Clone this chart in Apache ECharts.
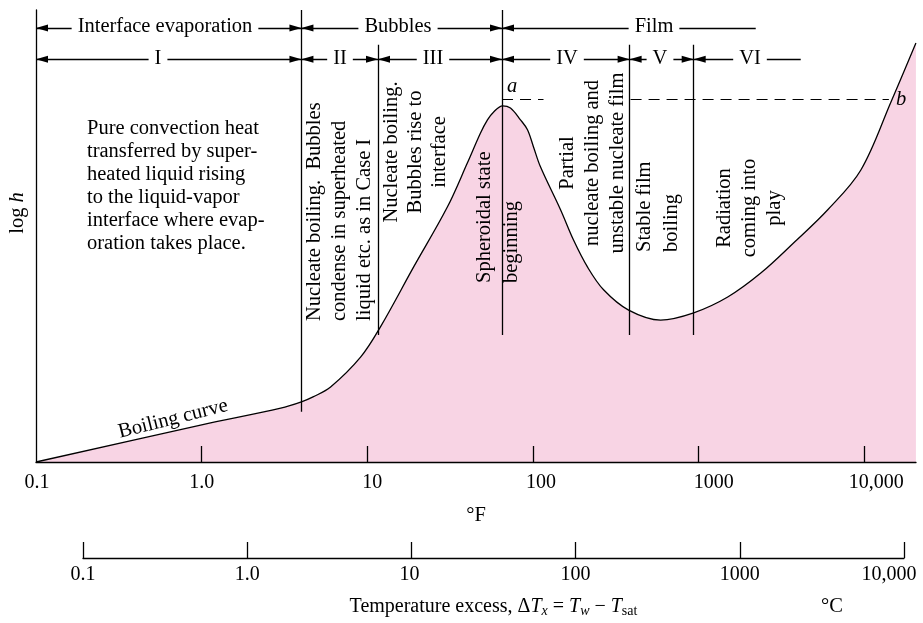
<!DOCTYPE html>
<html>
<head>
<meta charset="utf-8">
<title>Boiling curve</title>
<script src="https://cdn.jsdelivr.net/npm/echarts@6/dist/echarts.min.js"></script>
<style>
  html, body { margin: 0; padding: 0; background: #fff; }
  #chart { width: 923px; height: 623px; }
</style>
</head>
<body>
<div id="chart"></div>
<script>
// tick values / labels of the two temperature scales
var fTicks = [0.1, 1, 10, 100, 1000, 10000];
var fTickLabels = ['0.1', '1.0', '10', '100', '1000', '10,000'];
var cTicks = [0.1, 1, 10, 100, 1000, 10000];
var cTickLabels = ['0.1', '1.0', '10', '100', '1000', '10,000'];

// boiling curve (x = deg F excess, y = log h in arbitrary units 0..100)
var curveX = [0.1, 1.0, 3.0, 4.0, 4.7, 6.0, 9.1, 12.0, 19.0, 30.4, 40.2, 48.2, 53.1, 57.7, 65.5, 73.1,
              84.0, 92.6, 100.7, 110.9, 146.6, 175.6, 213.5, 266.6, 377.6, 589, 933, 1497, 2371,
              3750, 6013, 9528, 14454, 20478];
var curveY = [0, 8.2, 11.9, 13.3, 14.4, 16.6, 23.2, 29.9, 43.1, 56.4, 66.2, 72.8, 75.7, 77.4, 78.8, 78.3,
              75.7, 73.5, 69.7, 65.3, 55.8, 49.1, 43.1, 38.1, 33.6, 31.4, 33.0, 36.5, 41.8,
              48.5, 55.8, 64.6, 79.6, 92.7];

// region boundaries
var boundX = [4, 11.6, 65, 383, 933];
var boundTop = [100, 92.3, 100, 92.3, 92.3];
var boundBottom = [11.1, 28.1, 28.1, 28.1, 28.1];

// arrow bands
var regimeStart = [0.1, 4, 65];
var regimeEnd = [4, 65, 2210];
var regimeEndArrow = [true, true, false];
var regimeNames = ['Interface evaporation', 'Bubbles', 'Film'];
var regimeY = 96.0;

var stageStart = [0.1, 4, 11.6, 65, 383, 933];
var stageEnd = [4, 11.6, 65, 383, 933, 4130];
var stageEndArrow = [true, true, true, true, true, false];
var stageNames = ['I', 'II', 'III', 'IV', 'V', 'VI'];
var stageY = 89.1;

// dashed reference lines a and b
var refY = 80.3;
var dashA = [65, 115.7];
var dashB = [388, 14060];

var PINK = '#f8d4e4';
var FONT = 'Liberation Serif';
var FS = 20.5;
var ARROW = 'path://M0,-12L0,-12M0,0L3.5,12L-3.5,12Z';

var fShift = [1, 0, 5, 8, 15, 12];
var cShift = [0, 0, -2, 0, 0, -15];

function tickIndex(ticks, v) {
  var best = 0;
  for (var i = 0; i < ticks.length; i++) {
    if (Math.abs(Math.log10(ticks[i]) - Math.log10(v)) < Math.abs(Math.log10(ticks[best]) - Math.log10(v))) best = i;
  }
  return best;
}
function shiftRich(shifts) {
  var r = {};
  shifts.forEach(function (s, i) {
    r['s' + i] = { fontFamily: FONT, fontSize: 20, color: '#000',
                   padding: s >= 0 ? [0, 0, 0, 2 * s] : [0, -2 * s, 0, 0] };
  });
  return r;
}

var chart = echarts.init(document.getElementById('chart'));

var boundLines = boundX.map(function (x, i) {
  return [{ coord: [x, boundTop[i]] }, { coord: [x, boundBottom[i]] }];
});
function bandLines(starts, ends, endArrow, y) {
  return starts.map(function (s, i) {
    return [
      { coord: [s, y], symbol: ARROW, symbolSize: [7, 24] },
      { coord: [ends[i], y], symbol: endArrow[i] ? ARROW : 'none', symbolSize: [7, 24] }
    ];
  });
}

var textStyleBase = { font: FS + 'px "' + FONT + '"', fill: '#000' };
function txt(x, y, text, extra) {
  var st = Object.assign({}, textStyleBase, { text: text }, extra && extra.style);
  var el = { type: 'text', x: x, y: y, z: 100, style: st };
  if (extra && extra.rotation) el.rotation = extra.rotation;
  return el;
}
var R90 = Math.PI / 2;
var bandTextPos = {
  regime: [165, 398, 654],
  stage: [158, 340, 433, 567, 660, 750]
};
var graphics = [];
regimeNames.forEach(function (n, i) {
  graphics.push(txt(bandTextPos.regime[i], 27, n,
    { style: { align: 'center', verticalAlign: 'middle', backgroundColor: '#fff', padding: [0, 6] } }));
});
stageNames.forEach(function (n, i) {
  graphics.push(txt(bandTextPos.stage[i], 59, n,
    { style: { align: 'center', verticalAlign: 'middle', backgroundColor: '#fff', padding: [0, 6] } }));
});
graphics.push(txt(87, 117,
  'Pure convection heat\ntransferred by super-\nheated liquid rising\nto the liquid-vapor\ninterface where evap-\noration takes place.',
  { style: { align: 'left', verticalAlign: 'top', lineHeight: 23 } }));
graphics.push(txt(340, 321, 'Nucleate boiling.  Bubbles\ncondense in superheated\nliquid etc. as in Case I',
  { rotation: R90, style: { align: 'left', verticalAlign: 'middle', lineHeight: 25 } }));
graphics.push(txt(416, 152, 'Nucleate boiling.\nBubbles rise to\ninterface',
  { rotation: R90, style: { align: 'center', verticalAlign: 'middle', lineHeight: 24 } }));
graphics.push(txt(498, 283, 'Spheroidal state\nbeginning',
  { rotation: R90, style: { align: 'left', verticalAlign: 'middle', lineHeight: 27 } }));
graphics.push(txt(593, 163, 'Partial\nnucleate boiling and\nunstable nucleate film',
  { rotation: R90, style: { align: 'center', verticalAlign: 'middle', lineHeight: 25 } }));
graphics.push(txt(658, 252, 'Stable film\nboiling',
  { rotation: R90, style: { align: 'left', verticalAlign: 'middle', lineHeight: 27 } }));
graphics.push(txt(750, 208, 'Radiation\ncoming into\nplay',
  { rotation: R90, style: { align: 'center', verticalAlign: 'middle', lineHeight: 25 } }));
graphics.push(txt(173, 419, 'Boiling curve',
  { rotation: 14 * Math.PI / 180, style: { align: 'center', verticalAlign: 'middle' } }));
graphics.push(txt(512, 87, 'a', { style: { font: 'italic ' + FS + 'px "' + FONT + '"', align: 'center', verticalAlign: 'middle' } }));
graphics.push(txt(901, 100, 'b', { style: { font: 'italic ' + FS + 'px "' + FONT + '"', align: 'center', verticalAlign: 'middle' } }));
graphics.push(txt(832, 607, '°C', { style: { align: 'center', verticalAlign: 'middle' } }));
graphics.push({
  type: 'text', x: 18, y: 213, rotation: R90, z: 100,
  style: {
    text: '{n|log }{i|h}', align: 'center', verticalAlign: 'middle',
    rich: {
      n: { fontFamily: FONT, fontSize: FS, fill: '#000' },
      i: { fontFamily: FONT, fontSize: FS, fontStyle: 'italic', fill: '#000' }
    }
  }
});

var option = {
  animation: false,
  backgroundColor: '#fff',
  grid: [
    { left: 36, right: 7, top: 10, bottom: 161 },
    { left: 83, right: 19, top: 540, height: 18 }
  ],
  xAxis: [
    {
      type: 'log', gridIndex: 0, min: 0.1, max: 20500, z: 5,
      name: '°F', nameLocation: 'middle', nameGap: 43,
      nameTextStyle: { fontFamily: FONT, fontSize: FS, color: '#000' },
      axisLine: { lineStyle: { color: '#000', width: 1.3 } },
      axisTick: { inside: true, length: 16, lineStyle: { color: '#000', width: 1.3 },
                  customValues: fTicks.slice(1) },
      axisLabel: {
        customValues: fTicks, margin: 11, fontFamily: FONT, fontSize: 20, color: '#000',
        formatter: function (v) { var i = tickIndex(fTicks, v); return '{s' + i + '|' + fTickLabels[i] + '}'; },
        rich: shiftRich(fShift)
      },
      splitLine: { show: false }
    },
    {
      type: 'log', gridIndex: 1, min: 0.1, max: 10000,
      name: '{n|Temperature excess, Δ}{i|T}{s|x}{n| = }{i|T}{s|w}{n| − }{i|T}{u|sat}',
      nameLocation: 'middle', nameGap: 38,
      nameTextStyle: {
        fontFamily: FONT, fontSize: 20, color: '#000',
        rich: {
          n: { fontFamily: FONT, fontSize: 20, color: '#000', lineHeight: 22 },
          i: { fontFamily: FONT, fontSize: 20, fontStyle: 'italic', color: '#000', lineHeight: 22 },
          s: { fontFamily: FONT, fontSize: 14, fontStyle: 'italic', color: '#000', lineHeight: 12, verticalAlign: 'bottom' },
          u: { fontFamily: FONT, fontSize: 14, color: '#000', lineHeight: 12, verticalAlign: 'bottom' }
        }
      },
      axisLine: { lineStyle: { color: '#000', width: 1.3 } },
      axisTick: { inside: true, length: 16, lineStyle: { color: '#000', width: 1.3 }, customValues: cTicks },
      axisLabel: {
        customValues: cTicks, margin: 7, fontFamily: FONT, fontSize: 20, color: '#000',
        formatter: function (v) { var i = tickIndex(cTicks, v); return '{s' + i + '|' + cTickLabels[i] + '}'; },
        rich: shiftRich(cShift)
      },
      splitLine: { show: false }
    }
  ],
  yAxis: [
    {
      type: 'value', gridIndex: 0, min: 0, max: 100, z: 5,
      axisLine: { show: true, lineStyle: { color: '#000', width: 1.3 } },
      axisTick: { show: false }, axisLabel: { show: false }, splitLine: { show: false }
    },
    { type: 'value', gridIndex: 1, show: false }
  ],
  graphic: graphics,
  series: [
    {
      type: 'line', xAxisIndex: 0, yAxisIndex: 0,
      data: curveX.map(function (x, i) { return [x, curveY[i]]; }),
      smooth: 0.35, symbol: 'none', z: 2,
      lineStyle: { color: '#000', width: 1.3 },
      areaStyle: { color: PINK, opacity: 1 },
      markLine: {
        silent: true, symbol: 'none', label: { show: false },
        lineStyle: { color: '#000', width: 1.3, type: 'solid' },
        data: boundLines
      }
    },
    {
      type: 'line', xAxisIndex: 0, yAxisIndex: 0, data: [], z: 3,
      markLine: {
        silent: true, label: { show: false },
        lineStyle: { color: '#000', width: 1.3, type: 'solid' },
        data: bandLines(regimeStart, regimeEnd, regimeEndArrow, regimeY)
          .concat(bandLines(stageStart, stageEnd, stageEndArrow, stageY))
      }
    },
    {
      type: 'line', xAxisIndex: 0, yAxisIndex: 0, data: [], z: 3,
      markLine: {
        silent: true, symbol: 'none', label: { show: false },
        lineStyle: { color: '#000', width: 1.2, type: [11, 7] },
        data: [
          [{ coord: [dashA[0], refY] }, { coord: [dashA[1], refY] }],
          [{ coord: [dashB[0], refY] }, { coord: [dashB[1], refY] }]
        ]
      }
    }
  ]
};
chart.setOption(option);
</script>
</body>
</html>
